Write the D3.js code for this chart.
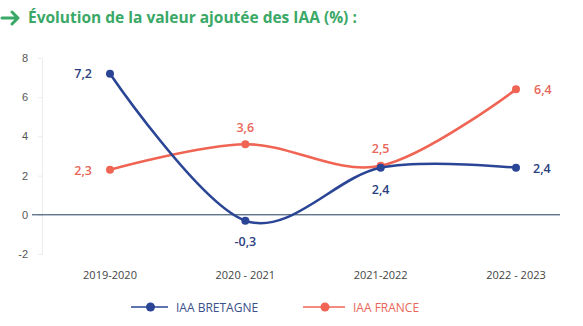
<!DOCTYPE html>
<html>
<head>
<meta charset="utf-8">
<script src="https://cdn.jsdelivr.net/npm/d3@7"></script>
<style>
  body { margin: 0; background: #fff; }
  svg { display: block; font-family: "Open Sans", Lato, sans-serif; }
</style>
</head>
<body>
<svg id="chart" width="583" height="326"></svg>
<script>
// series
let periods = ["2019-2020", "2020 - 2021", "2021-2022", "2022 - 2023"];
let bretagne = [7.2, -0.3, 2.4, 2.4];
let france = [2.3, 3.6, 2.5, 6.4];
let yTicks = [-2, 0, 2, 4, 6, 8];
let seriesNames = ["IAA BRETAGNE", "IAA FRANCE"];

let blue = "#2a4595";
let red = "#ef6453";

let svg = d3.select("#chart");

// title with arrow
let title = svg.append("g");
title.append("path")
  .attr("d", "M2,18 H18 M12,12 L18,18 L12,24")
  .attr("fill", "none")
  .attr("stroke", "#3aa866")
  .attr("stroke-width", 3)
  .attr("stroke-linecap", "round")
  .attr("stroke-linejoin", "round");
title.append("text")
  .attr("x", 28).attr("y", 23)
  .attr("fill", "#3aa866")
  .attr("font-size", 15.5)
  .attr("font-weight", 700)
  .text("Évolution de la valeur ajoutée des IAA (%) :");

let x = d3.scalePoint().domain(periods).range([110, 516]);
let y = d3.scaleLinear().domain([-2, 8]).range([254, 58]);

// y axis
let yAxis = svg.append("g")
  .attr("transform", "translate(42,0)")
  .call(d3.axisLeft(y).tickValues(yTicks).tickSize(4).tickPadding(10)
    .tickFormat(d => String(d)));
yAxis.select(".domain").attr("stroke", "#ececec");
yAxis.selectAll(".tick line").attr("stroke", "#ececec");
yAxis.selectAll("text").attr("fill", "#555").attr("font-size", 11);

// zero line
svg.append("line")
  .attr("x1", 32).attr("x2", 560)
  .attr("y1", y(0)).attr("y2", y(0))
  .attr("stroke", "#1f3f5c").attr("stroke-width", 1);

// x category labels
svg.append("g").selectAll("text")
  .data(periods).enter().append("text")
  .attr("x", d => x(d)).attr("y", 279)
  .attr("text-anchor", "middle")
  .attr("fill", "#444").attr("font-size", 11)
  .text(d => d);

let line = d3.line()
  .x((d, i) => x(periods[i]))
  .y(d => y(d))
  .curve(d3.curveCatmullRom.alpha(0));

function drawSeries(values, color) {
  svg.append("path")
    .datum(values)
    .attr("d", line)
    .attr("fill", "none")
    .attr("stroke", color)
    .attr("stroke-width", 2.6);
  svg.append("g").selectAll("circle")
    .data(values).enter().append("circle")
    .attr("cx", (d, i) => x(periods[i]))
    .attr("cy", d => y(d))
    .attr("r", 4)
    .attr("fill", color);
}
drawSeries(france, red);
drawSeries(bretagne, blue);

// value labels: [dx, dy, anchor] per point
let fmt = v => d3.format(".1f")(v).replace(".", ",").replace("\u2212", "-");
let bretagnePos = [[-18, 4, "end"], [0, 25, "middle"], [0, 26, "middle"], [17, 5, "start"]];
let francePos = [[-18, 5, "end"], [0, -12, "middle"], [0, -13, "middle"], [18, 5, "start"]];

function drawLabels(values, pos, color) {
  svg.append("g").selectAll("text")
    .data(values).enter().append("text")
    .attr("x", (d, i) => x(periods[i]) + pos[i][0])
    .attr("y", (d, i) => y(d) + pos[i][1])
    .attr("text-anchor", (d, i) => pos[i][2])
    .attr("fill", color)
    .attr("font-size", 12.5)
    .attr("font-weight", 600)
    .text(fmt);
}
drawLabels(bretagne, bretagnePos, "#2b3f7e");
drawLabels(france, francePos, "#e8675a");

// legend
let legend = svg.append("g").attr("transform", "translate(0,307)");
let legendItems = [
  { name: seriesNames[0], color: blue, x0: 131, x1: 168, text: "#3b4f8a" },
  { name: seriesNames[1], color: red, x0: 303, x1: 345, text: "#e8675a" }
];
legendItems.forEach(it => {
  legend.append("line")
    .attr("x1", it.x0).attr("x2", it.x1)
    .attr("stroke", it.color).attr("stroke-width", 1.5);
  legend.append("circle")
    .attr("cx", (it.x0 + it.x1) / 2 + 1).attr("r", 4.5)
    .attr("fill", it.color);
  legend.append("text")
    .attr("x", it.x1 + 8).attr("y", 4.5)
    .attr("fill", it.text).attr("font-size", 12)
    .text(it.name);
});
</script>
</body>
</html>
